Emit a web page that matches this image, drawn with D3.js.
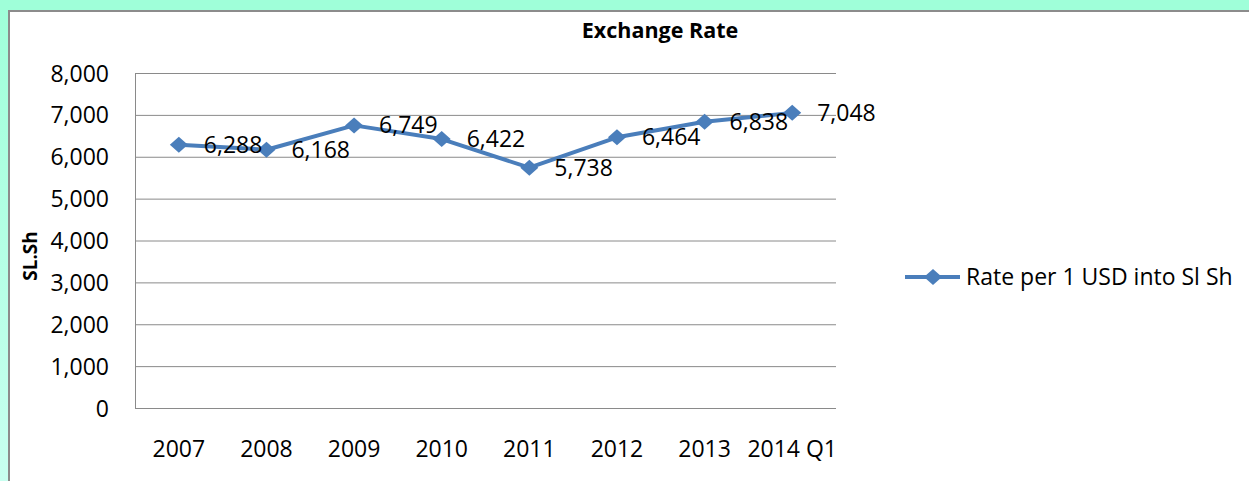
<!DOCTYPE html>
<html>
<head>
<meta charset="utf-8">
<script src="https://cdn.jsdelivr.net/npm/d3@7"></script>
<style>
  body { margin: 0; padding: 0; background: #ffffff; }
  svg { display: block; font-family: "Open Sans", sans-serif; }
</style>
</head>
<body>
<div class="chart"></div>
<script>
// chart data
var years = ["2007", "2008", "2009", "2010", "2011", "2012", "2013", "2014 Q1"];
var rates = [6288, 6168, 6749, 6422, 5738, 6464, 6838, 7048];
var yTicks = [0, 1000, 2000, 3000, 4000, 5000, 6000, 7000, 8000];
var seriesName = "Rate per 1 USD into Sl Sh";

var svgWidth = 1249;
var svgHeight = 481;

// plot area inside the svg
var margin = { top: 73, left: 135, right: 413, bottom: 73 };
var width = svgWidth - margin.left - margin.right;
var height = svgHeight - margin.top - margin.bottom;

var blue = "#4a7ebb";
var gridColor = "#8a8a8a";

var svg = d3.select(".chart")
    .append("svg")
    .attr("width", svgWidth)
    .attr("height", svgHeight);

// mint frame round the chart
var defs = svg.append("defs");
var grad = defs.append("linearGradient")
    .attr("id", "leftFade")
    .attr("x1", 0).attr("y1", 0).attr("x2", 0).attr("y2", 1);
grad.append("stop").attr("offset", "0%").attr("stop-color", "#9fffd9");
grad.append("stop").attr("offset", "100%").attr("stop-color", "#c8fff0");

svg.append("rect")
    .attr("width", svgWidth).attr("height", svgHeight)
    .attr("fill", "url(#leftFade)");
svg.append("rect")
    .attr("width", svgWidth).attr("height", 10)
    .attr("fill", "#9fffd9");
svg.append("rect")
    .attr("x", 9).attr("y", 11)
    .attr("width", svgWidth).attr("height", svgHeight)
    .attr("fill", "#ffffff")
    .attr("stroke", "#8c8c8c")
    .attr("stroke-width", 2);

// title
svg.append("text")
    .attr("x", 660)
    .attr("y", 38)
    .attr("text-anchor", "middle")
    .attr("font-size", "21.5px")
    .attr("font-weight", "bold")
    .attr("fill", "#000")
    .text("Exchange Rate");

var chartGroup = svg.append("g")
    .attr("transform", `translate(${margin.left}, ${margin.top})`);

// scales
var xScale = d3.scaleBand()
    .domain(years)
    .range([0, width]);

var yScale = d3.scaleLinear()
    .domain([0, 8000])
    .range([height, 0]);

// gridlines
chartGroup.selectAll(".grid")
    .data(yTicks.slice(1))
    .enter()
    .append("line")
    .attr("x1", 0)
    .attr("x2", width)
    .attr("y1", d => yScale(d) + 0.5)
    .attr("y2", d => yScale(d) + 0.5)
    .attr("stroke", gridColor)
    .attr("stroke-width", 1);

// y axis
var leftAxis = d3.axisLeft(yScale)
    .tickValues(yTicks)
    .tickSize(0)
    .tickPadding(26)
    .tickFormat(d3.format(","));

var yAxisG = chartGroup.append("g").call(leftAxis);
yAxisG.select(".domain").remove();
yAxisG.selectAll("text")
    .attr("font-family", "Open Sans, sans-serif")
    .attr("font-size", "23px")
    .attr("fill", "#000")
    .attr("dy", "0.35em");

// x axis
var bottomAxis = d3.axisBottom(xScale)
    .tickSize(0)
    .tickPadding(0);

var xAxisG = chartGroup.append("g")
    .attr("transform", `translate(0, ${height})`)
    .call(bottomAxis);
xAxisG.select(".domain").remove();
xAxisG.selectAll("text")
    .attr("font-family", "Open Sans, sans-serif")
    .attr("font-size", "23px")
    .attr("fill", "#000")
    .attr("dy", null)
    .attr("y", 49);

// left and bottom border of plot area
chartGroup.append("line")
    .attr("x1", 0.5).attr("x2", 0.5)
    .attr("y1", 0).attr("y2", height)
    .attr("stroke", gridColor);
chartGroup.append("line")
    .attr("x1", 0).attr("x2", width)
    .attr("y1", height + 0.5).attr("y2", height + 0.5)
    .attr("stroke", gridColor);

// the series line
var xMid = d => xScale(d) + xScale.bandwidth() / 2;

var line = d3.line()
    .x((d, i) => xMid(years[i]))
    .y(d => yScale(d));

chartGroup.append("path")
    .datum(rates)
    .attr("d", line)
    .attr("fill", "none")
    .attr("stroke", blue)
    .attr("stroke-width", 4)
    .attr("stroke-linejoin", "round");

// diamond markers
var diamond = "M0,-8L9,0L0,8L-9,0Z";

chartGroup.selectAll(".marker")
    .data(rates)
    .enter()
    .append("path")
    .attr("d", diamond)
    .attr("transform", (d, i) => `translate(${xMid(years[i])}, ${yScale(d)})`)
    .attr("fill", blue);

// data labels
chartGroup.selectAll(".label")
    .data(rates)
    .enter()
    .append("text")
    .attr("x", (d, i) => xMid(years[i]) + 25)
    .attr("y", d => yScale(d))
    .attr("dy", "0.35em")
    .attr("font-size", "23px")
    .attr("fill", "#000")
    .text(d => d3.format(",")(d));

// y axis title
svg.append("text")
    .attr("transform", "translate(37, 256) rotate(-90)")
    .attr("text-anchor", "middle")
    .attr("font-size", "19px")
    .attr("font-weight", "bold")
    .attr("fill", "#000")
    .text("SL.Sh");

// legend
var legend = svg.append("g")
    .attr("transform", "translate(905, 277)");
legend.append("line")
    .attr("x1", 0).attr("x2", 55)
    .attr("y1", 0).attr("y2", 0)
    .attr("stroke", blue)
    .attr("stroke-width", 4);
legend.append("path")
    .attr("d", diamond)
    .attr("transform", "translate(28, 0)")
    .attr("fill", blue);
legend.append("text")
    .attr("x", 61)
    .attr("y", 0)
    .attr("dy", "0.35em")
    .attr("font-size", "23px")
    .attr("fill", "#000")
    .text(seriesName);
</script>
</body>
</html>
